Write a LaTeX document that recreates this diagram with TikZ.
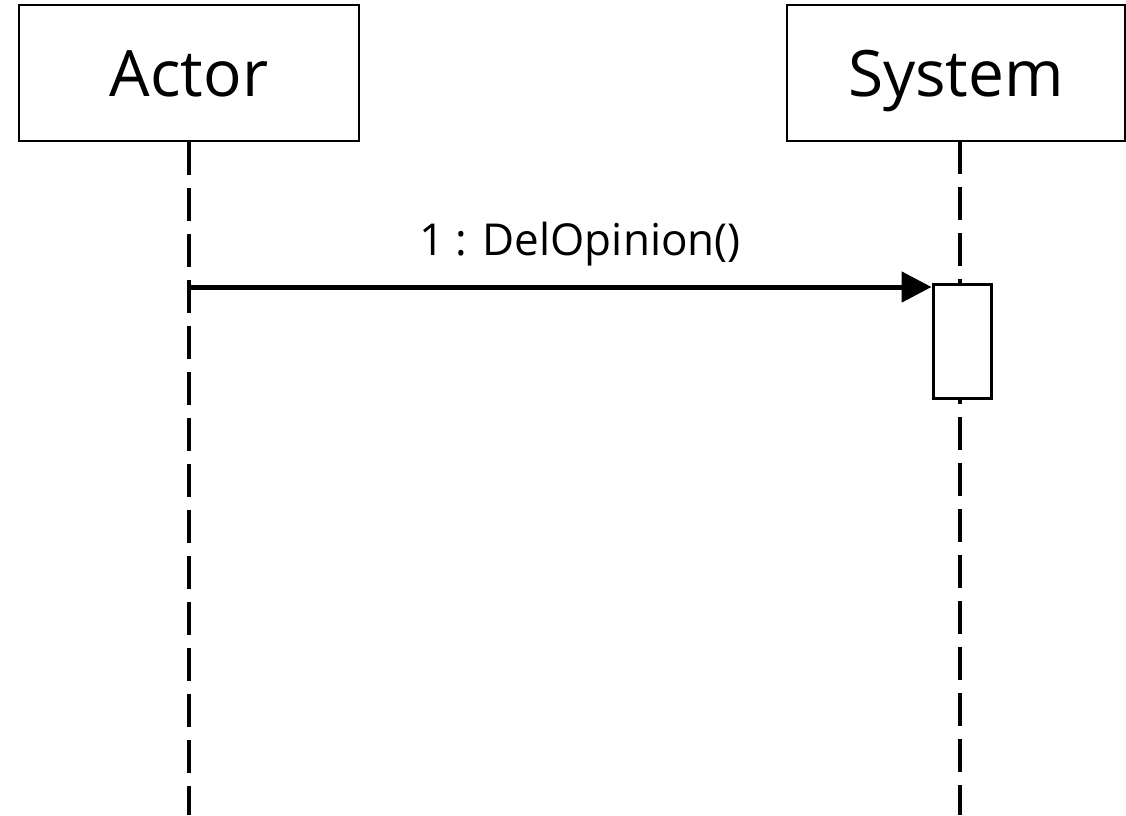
\documentclass[tikz,border=0pt]{standalone}
\usepackage{fontspec}
\setmainfont{Open Sans}
\usetikzlibrary{arrows.meta}
\begin{document}
\begin{tikzpicture}[x=1pt,y=-1pt,
  lifebox/.style={draw,line width=2.5pt,minimum width=340pt,minimum height=136pt,inner sep=0pt},
  boxtext/.style={anchor=base,inner sep=0pt,font=\fontsize{64}{70}\selectfont},
  lifeline/.style={line width=3.5pt,dash pattern=on 33pt off 13pt},
  actbox/.style={draw,fill=white,line width=3pt,minimum width=58pt,minimum height=114pt,inner sep=0pt},
  msg/.style={line width=5pt,-{Triangle[length=30pt,width=30pt]}},
  lbl/.style={anchor=base,inner sep=0pt,font=\fontsize{44}{50}\selectfont}]
\useasboundingbox (0,0) rectangle (1126,815);
\node[lifebox] (actor) at (189,73) {};
\node[lifebox,minimum width=338pt] (system) at (956,73) {};
\node[boxtext] (actortxt) at (189,96) {Actor};
\node[boxtext] (systemtxt) at (956,96) {System};
\coordinate (aend) at (189,815);
\coordinate (send) at (960,815);
\coordinate (stop) at (960,141);
\draw[lifeline] (actor.south) -- (aend);
\draw[lifeline] (stop) -- (send);
\node[actbox] (act) at (962,341.5) {};
\coordinate (mstart) at (189,287);
\draw[msg] (mstart) -- (act.north west |- mstart);
\node[lbl] (mlabel) at (580,255) {1 : DelOpinion()};
\end{tikzpicture}
\end{document}
